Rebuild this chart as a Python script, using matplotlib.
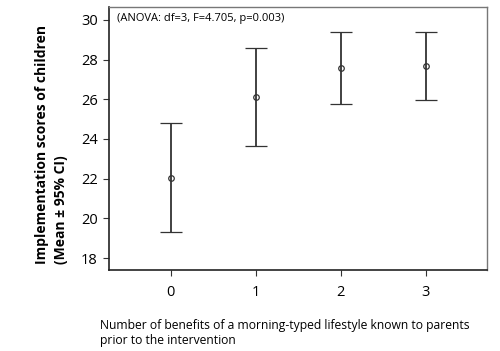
import numpy as np
import matplotlib
matplotlib.use("Agg")
import matplotlib.pyplot as plt

plt.rcParams['font.family'] = ['Open Sans', 'DejaVu Sans']

# number of benefits known to parents, mean and 95% CI
benefits = [0, 1, 2, 3]
means = [22.05, 26.13, 27.58, 27.70]
ci_low = [19.32, 23.66, 25.78, 25.98]
ci_high = [24.79, 28.60, 29.38, 29.41]
yticks = [18, 20, 22, 24, 26, 28, 30]

means = np.array(means)
err = [means - np.array(ci_low), np.array(ci_high) - means]

fig = plt.figure(figsize=(5, 3.51), dpi=100)
ax = fig.add_axes([0.218, 0.231, 0.756, 0.749])

line_col = '#333333'
ax.errorbar(benefits, means, yerr=err, fmt='o', color=line_col, ecolor=line_col,
            elinewidth=1.3, capsize=8, capthick=1.3,
            markersize=4, markerfacecolor='none', markeredgewidth=0.9)

ax.set_xlim(-0.725, 3.72)
ax.set_ylim(17.4, 30.65)
ax.set_xticks(benefits)
ax.set_yticks(yticks)
ax.tick_params(direction='out', length=4, width=0.8, colors='#333333',
               labelsize=10.5, labelcolor='black', pad=4)
ax.tick_params(axis='x', pad=7)

for side in ['left', 'bottom']:
    ax.spines[side].set_color('#222222')
    ax.spines[side].set_linewidth(1.2)
for side in ['top', 'right']:
    ax.spines[side].set_color('#777777')
    ax.spines[side].set_linewidth(1.0)

ax.text(0.022, 0.955, '(ANOVA: df=3, F=4.705, p=0.003)', transform=ax.transAxes,
        fontsize=8, ha='left', va='center')

fig.text(42 / 500, 1 - 264 / 351, 'Implementation scores of children',
         rotation=90, fontsize=10, fontweight='bold', ha='center', va='bottom')
fig.text(61 / 500, 1 - 264 / 351, '(Mean \u00b1 95% CI)',
         rotation=90, fontsize=10, fontweight='bold', ha='center', va='bottom')

fig.text(100 / 500, 1 - 333 / 351,
         'Number of benefits of a morning-typed lifestyle known to parents\nprior to the intervention',
         fontsize=8.7, ha='left', va='center', linespacing=1.25)

fig.savefig('out.png', dpi=100)
